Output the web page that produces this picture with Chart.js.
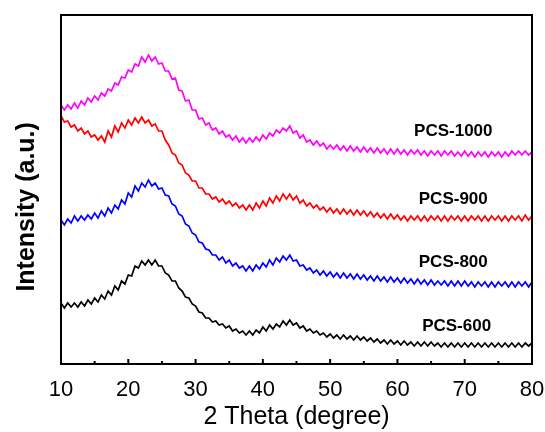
<!DOCTYPE html>
<html>
<head>
<meta charset="utf-8">
<script src="https://cdn.jsdelivr.net/npm/chart.js"></script>
<style>
  html, body { margin: 0; padding: 0; background: #fff; }
  #wrap { width: 545px; height: 432px; }
</style>
</head>
<body>
<div id="wrap"><canvas id="xrdChart" width="545" height="432"></canvas></div>
<script>
// 2 theta sampling: 10 to 80 degrees, every 0.5 degree
const thetaStart = 10;
const thetaStep = 0.5;
const xTicks = [10, 20, 30, 40, 50, 60, 70, 80];

// intensities (a.u., curves already offset as in the figure), one value per 0.5 degree
const pcs1000 = [
  259,254,259,255,261,256,263,259,266,262,268,264,271,268,275,273,281,279,287,286,
  294,292,300,298,307,302,309,303,307,300,301,293,293,285,286,274,273,263,264,254,
  254,245,246,239,241,234,236,230,233,227,229,224,228,222,226,221,226,222,227,223,
  229,225,231,228,234,231,236,233,238,231,233,226,229,222,224,219,223,218,221,215,
  219,215,219,214,218,213,218,213,217,212,217,212,216,211,216,211,215,210,215,210,
  215,210,214,209,214,210,214,209,213,208,213,209,213,208,213,209,213,208,212,208,
  213,208,212,207,212,208,212,207,212,208,212,207,212,208,213,209,213,209,213,209,
  212
];
const pcs900 = [
  248,242,243,237,239,233,236,230,233,227,229,224,228,222,233,227,238,232,241,236,
  244,239,246,241,247,241,244,238,240,233,233,224,219,211,209,201,199,191,189,183,
  183,176,176,170,170,165,167,162,165,160,163,158,161,156,159,154,159,154,161,156,
  163,158,166,161,168,163,170,165,170,164,168,161,164,158,161,156,159,154,157,152,
  156,151,155,150,155,150,154,149,154,149,153,148,152,147,151,146,150,145,150,145,
  149,144,148,143,148,144,148,143,148,143,148,144,148,143,148,143,148,144,148,143,
  148,143,148,144,148,143,148,143,148,144,148,143,148,143,148,144,148,143,149,144,
  148
];
const pcs800 = [
  144,139,145,141,148,143,148,144,149,145,151,146,153,148,156,151,159,155,164,160,
  171,167,178,173,181,177,184,178,181,175,176,169,168,160,158,150,148,140,138,131,
  129,122,121,115,114,109,109,104,107,101,104,98,101,96,98,93,98,93,99,95,
  101,97,104,99,106,102,108,104,109,103,104,98,99,94,96,91,94,89,93,88,
  92,87,91,86,91,86,90,85,90,85,89,84,88,83,88,83,87,82,87,82,
  86,81,86,81,85,80,85,80,84,79,84,79,83,79,83,78,83,78,83,78,
  83,78,82,77,82,78,82,77,82,77,82,78,82,77,82,77,82,78,82,77,
  82
];
const pcs600 = [
  61,56,61,57,61,57,62,58,64,60,66,62,69,65,73,69,78,74,83,80,
  89,88,98,96,103,99,104,99,104,98,98,91,89,83,83,76,73,67,66,60,
  58,52,51,46,46,42,43,39,40,36,38,33,35,31,33,29,33,29,34,31,
  37,33,39,35,40,37,43,39,44,39,41,36,38,33,35,31,33,29,31,27,
  30,26,29,25,29,25,28,24,28,24,27,23,26,22,25,21,24,20,24,20,
  23,19,23,19,22,18,22,18,22,18,22,18,21,17,21,17,21,17,21,17,
  21,17,21,17,21,17,21,17,21,17,21,17,21,17,21,17,21,17,21,18,
  21
];

const seriesNames = ["PCS-1000", "PCS-900", "PCS-800", "PCS-600"];
const seriesColors = ["#ff00ff", "#ff0000", "#0000ff", "#000000"];
const seriesValues = [pcs1000, pcs900, pcs800, pcs600];

// where each curve name sits, in data units (2 theta, intensity)
const labelTheta = [68.3, 68.3, 68.3, 68.8];
const labelIntensity = [233, 165, 102, 38];

const fontFamily = "'Liberation Sans', Arial, sans-serif";

function toPoints(values) {
  return values.map((v, i) => ({ x: thetaStart + i * thetaStep, y: v }));
}

// frame + inward ticks on the bottom axis
const framePlugin = {
  id: "frame",
  afterDraw(chart) {
    const ctx = chart.ctx;
    const a = chart.chartArea;
    const xs = chart.scales.x;
    ctx.save();
    ctx.strokeStyle = "#000";
    ctx.lineWidth = 2;
    ctx.strokeRect(a.left, a.top, a.right - a.left, a.bottom - a.top);
    for (let t = 10; t <= 80; t += 5) {
      const px = xs.getPixelForValue(t);
      const len = t % 10 === 0 ? 5 : 3;
      ctx.beginPath();
      ctx.moveTo(px, a.bottom);
      ctx.lineTo(px, a.bottom - len);
      ctx.stroke();
    }
    ctx.restore();
  }
};

// curve names next to each trace
const namePlugin = {
  id: "names",
  afterDatasetsDraw(chart) {
    const ctx = chart.ctx;
    ctx.save();
    ctx.font = "bold 17px " + fontFamily;
    ctx.fillStyle = "#000";
    ctx.textAlign = "center";
    ctx.textBaseline = "middle";
    seriesNames.forEach((name, i) => {
      const px = chart.scales.x.getPixelForValue(labelTheta[i]);
      const py = chart.scales.y.getPixelForValue(labelIntensity[i]);
      ctx.fillText(name, px, py);
    });
    ctx.restore();
  }
};

new Chart(document.getElementById("xrdChart").getContext("2d"), {
  type: "line",
  data: {
    datasets: seriesValues.map((vals, i) => ({
      label: seriesNames[i],
      data: toPoints(vals),
      borderColor: seriesColors[i],
      borderWidth: 1.7,
      pointRadius: 0,
      tension: 0,
      fill: false
    }))
  },
  options: {
    responsive: false,
    animation: false,
    events: [],
    layout: { padding: { top: 15, right: 13, left: 0, bottom: 2 } },
    plugins: {
      legend: { display: false },
      tooltip: { enabled: false }
    },
    scales: {
      x: {
        type: "linear",
        min: 10,
        max: 80,
        afterBuildTicks: (scale) => { scale.ticks = xTicks.map(v => ({ value: v })); },
        // fixed axis band, no extra padding for the end labels
        afterFit: (scale) => {
          scale.height = 66;
          scale.paddingLeft = 0;
          scale.paddingRight = 0;
        },
        grid: { display: false, drawTicks: false },
        border: { display: false },
        ticks: {
          color: "#000",
          padding: 15,
          maxRotation: 0,
          font: { family: fontFamily, size: 22, lineHeight: 1 }
        },
        title: {
          display: true,
          text: "2 Theta (degree)",
          color: "#000",
          padding: { top: 5, bottom: 0 },
          font: { family: fontFamily, size: 25, lineHeight: 1 }
        }
      },
      y: {
        min: 0,
        max: 349,
        afterFit: (scale) => { scale.width = 61; },
        grid: { display: false, drawTicks: false },
        border: { display: false },
        ticks: { display: false },
        title: {
          display: true,
          text: "Intensity (a.u.)     ",
          color: "#000",
          padding: { top: 12, bottom: 19 },
          font: { family: fontFamily, size: 25, weight: "bold", lineHeight: 1.2 }
        }
      }
    }
  },
  plugins: [framePlugin, namePlugin]
});
</script>
</body>
</html>
